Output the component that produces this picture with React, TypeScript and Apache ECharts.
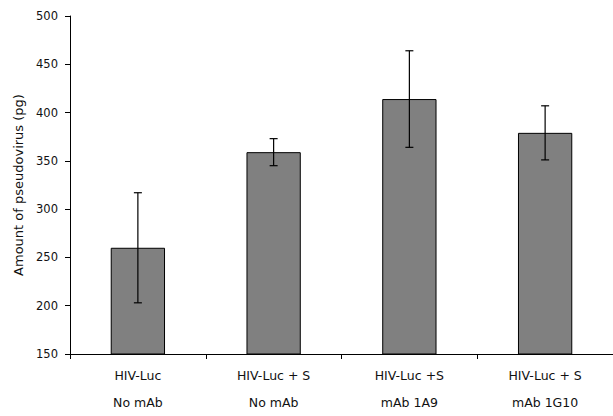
import React, { useEffect, useRef } from "react";
import * as echarts from "echarts";

const categories = ["HIV-Luc\nNo mAb", "HIV-Luc + S\nNo mAb", "HIV-Luc +S\nmAb 1A9", "HIV-Luc + S\nmAb 1G10"];
const means = [260, 359, 414, 379];
const errors = [57, 14, 50, 28];
const yTicks = { min: 150, max: 500, interval: 50 };

export default function App() {
  const ref = useRef<HTMLDivElement>(null);
  useEffect(() => {
    if (!ref.current) return;
    const chart = echarts.init(ref.current, null, { renderer: "svg" });
    const font = "DejaVu Sans";
    chart.setOption({
      animation: false,
      backgroundColor: "#ffffff",
      grid: { left: 70, top: 16, width: 551, height: 340.5 },
      xAxis: {
        type: "category",
        data: categories,
        axisLine: { lineStyle: { color: "#000", width: 1 } },
        axisTick: { show: true, length: 5, lineStyle: { color: "#000" } },
        axisLabel: {
          color: "#111",
          fontFamily: font,
          fontSize: 12.5,
          lineHeight: 27,
          margin: 8,
          interval: 0,
        },
      },
      yAxis: {
        type: "value",
        min: yTicks.min,
        max: yTicks.max,
        interval: yTicks.interval,
        name: "Amount of pseudovirus (pg)",
        nameLocation: "middle",
        nameGap: 45,
        nameTextStyle: { color: "#111", fontFamily: font, fontSize: 13 },
        axisLine: { show: true, lineStyle: { color: "#000", width: 1 } },
        axisTick: { show: true, length: 5, lineStyle: { color: "#000" } },
        axisLabel: { color: "#111", fontFamily: font, fontSize: 11.5, margin: 12 },
        splitLine: { show: false },
      },
      series: [
        {
          type: "bar",
          data: means,
          barWidth: "40%",
          itemStyle: { color: "#808080", borderColor: "#000", borderWidth: 1 },
        },
        {
          type: "custom",
          data: means.map((m, i) => [i, m - errors[i], m + errors[i]]),
          renderItem: (params: any, api: any) => {
            const x = api.value(0);
            const lo = api.coord([x, api.value(1)]);
            const hi = api.coord([x, api.value(2)]);
            const cap = 4;
            const style = { stroke: "#000", lineWidth: 1.2 };
            return {
              type: "group",
              children: [
                { type: "line", shape: { x1: lo[0], y1: lo[1], x2: hi[0], y2: hi[1] }, style },
                { type: "line", shape: { x1: hi[0] - cap, y1: hi[1], x2: hi[0] + cap, y2: hi[1] }, style },
                { type: "line", shape: { x1: lo[0] - cap, y1: lo[1], x2: lo[0] + cap, y2: lo[1] }, style },
              ],
            };
          },
          z: 10,
        },
      ],
    });
    return () => chart.dispose();
  }, []);
  return <div ref={ref} style={{ position: "fixed", left: 0, top: 0, width: 613, height: 416 }} />;
}
